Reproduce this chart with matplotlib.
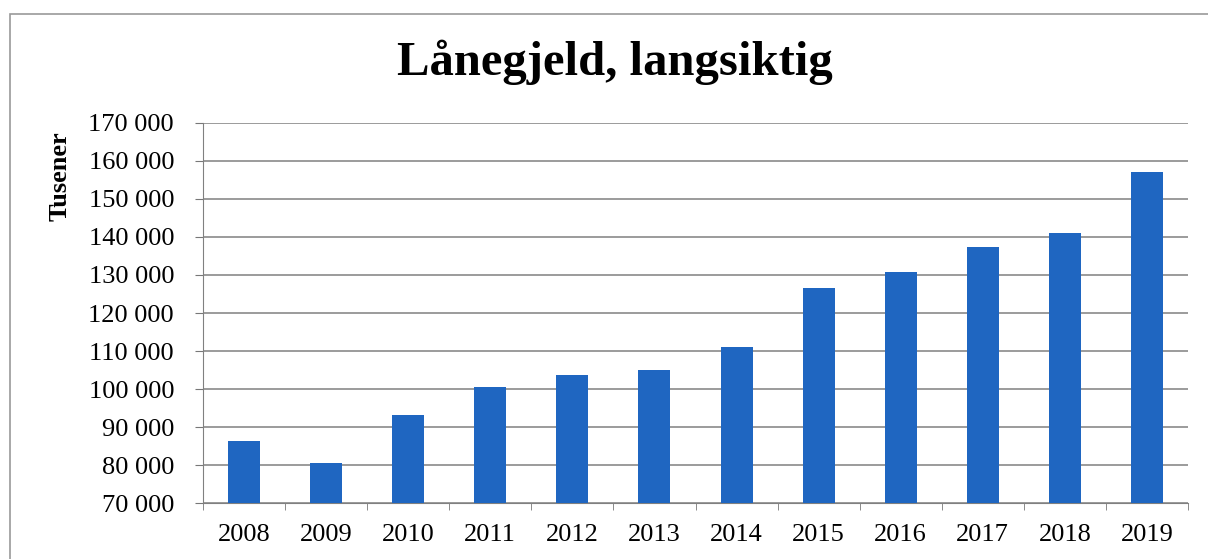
import matplotlib
matplotlib.use("Agg")
import matplotlib.pyplot as plt
from matplotlib.patches import Rectangle
from matplotlib.ticker import FuncFormatter

years = ["2008", "2009", "2010", "2011", "2012", "2013", "2014", "2015", "2016", "2017", "2018", "2019"]
values = [86400, 80700, 93100, 100500, 103800, 105000, 111100, 126600, 130900, 137400, 141100, 157000]
y_ticks = [70000, 80000, 90000, 100000, 110000, 120000, 130000, 140000, 150000, 160000, 170000]

plt.rcParams['font.family'] = ['Liberation Serif', 'DejaVu Serif']
W, H = 1208, 559
fig = plt.figure(figsize=(W / 100, H / 100), dpi=100)

# outer chart border
fig.patches.append(Rectangle((10 / W, -0.1), 1.2, (H - 14) / H + 0.1, transform=fig.transFigure,
                             fill=False, edgecolor='#9a9a9a', linewidth=1.2))

ax = fig.add_axes([203 / W, 1 - 503.3 / H, (1188 - 203) / W, (503.3 - 122.7) / H])
x = list(range(len(years)))
ax.bar(x, values, width=0.39, color='#1f66c1', zorder=3)
ax.set_xlim(-0.5, len(years) - 0.5)
ax.set_ylim(70000, 170000)
ax.set_yticks(y_ticks)
ax.yaxis.set_major_formatter(FuncFormatter(lambda v, p: f"{int(v):,}".replace(",", " ")))
ax.set_xticks(x)
ax.set_xticklabels(years)
ax.set_xticks([i - 0.5 for i in range(len(years) + 1)], minor=True)
ax.tick_params(axis='x', which='major', length=0, pad=15, labelsize=19)
ax.tick_params(axis='x', which='minor', length=5, color='#777777', direction='out')
ax.tick_params(axis='y', length=5.8, color='#777777', direction='out', pad=15, labelsize=19)
ax.grid(axis='y', color='#808080', linewidth=1.1, zorder=0)
for s in ['top', 'right']:
    ax.spines[s].set_visible(False)
ax.spines['left'].set_color('#808080')
ax.spines['bottom'].set_color('#808080')

fig.text(615 / W, 1 - 62 / H, "Lånegjeld, langsiktig", ha='center', va='center',
         fontsize=35, fontweight='bold')
fig.text(60 / W, 1 - 176 / H, "Tusener", ha='center', va='center', rotation=90,
         fontsize=19, fontweight='bold')

fig.savefig("out.png", dpi=100)
